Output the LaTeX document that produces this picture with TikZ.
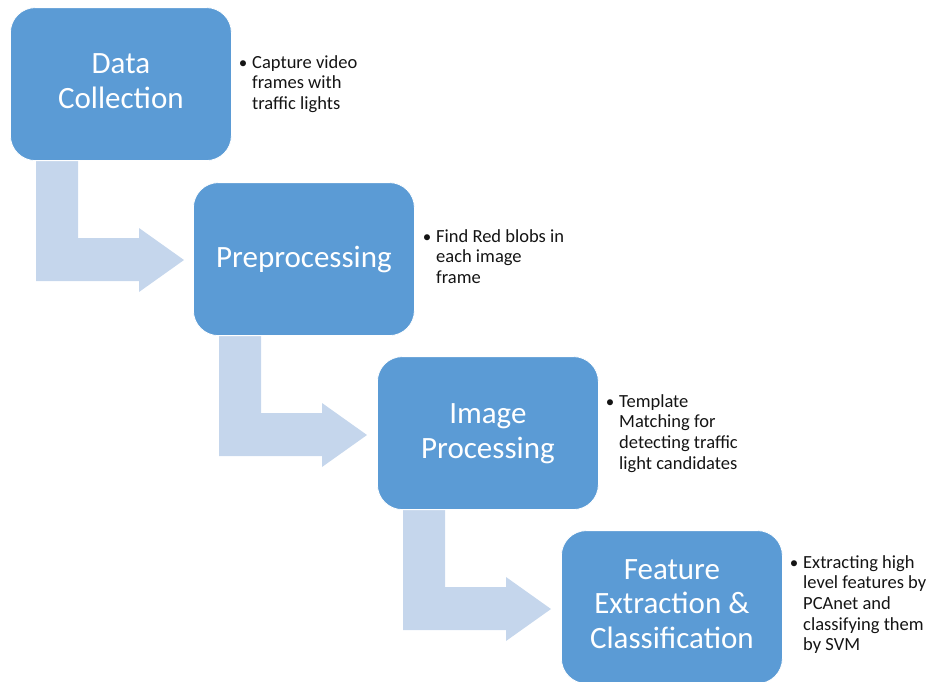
\documentclass[tikz,border=0pt]{standalone}
\usepackage{fontspec}
\setmainfont{Carlito}
\usetikzlibrary{calc}
\definecolor{boxblue}{RGB}{91,155,213}
\definecolor{arrowblue}{RGB}{197,214,236}
\definecolor{txt}{RGB}{20,20,20}
\tikzset{
  box/.style={rectangle, rounded corners=25pt, fill=boxblue, draw=white, line width=0.8pt,
    minimum width=221pt, minimum height=153pt, inner sep=0pt, anchor=south west},
  boxlabel/.style={text=white, align=center, inner sep=0pt, anchor=base, font=\fontsize{31}{34.3}\selectfont},
  note/.style={text=txt, align=left, inner sep=0pt, anchor=base west, font=\fontsize{18.5}{20.7}\selectfont},
  bul/.style={text=txt, inner sep=0pt, anchor=base, font=\fontsize{17}{20.7}\selectfont},
  bentarrow/.style={fill=arrowblue, draw=none}
}
\begin{document}
\begin{tikzpicture}[x=1pt, y=-1pt]
\useasboundingbox (0,0) rectangle (930,681);
\clip (0,0) rectangle (930,681);
% lower-left corners of the boxes
\coordinate (c1) at (10,161);
\coordinate (c2) at (193,336);
\coordinate (c3) at (377,510);
\coordinate (c4) at (561,684);
% bent arrows (behind boxes)
\foreach \c in {c1,c2,c3}{
  \path[bentarrow, shift={(\c)}]
    (26,-6) -- (68,-6) -- (68,77) -- (129,77) -- (129,67) -- (174,99)
    -- (129,131) -- (129,120) -- (26,120) -- cycle;
}
% boxes
\node[box] (b1) at (c1) {};
\node[box] (b2) at (c2) {};
\node[box] (b3) at (c3) {};
\node[box] (b4) at (c4) {};
% labels (anchored at the baseline of their last line)
\node[boxlabel] (l1) at (b1.center |- 0,108) {Data\\Collection};
\node[boxlabel] (l2) at (b2.center |- 0,267) {Preprocessing};
\node[boxlabel] (l3) at (b3.center |- 0,458) {Image\\Processing};
\node[boxlabel] (l4) at (b4.center |- 0,648) {Feature\\Extraction \&\\Classification};
% notes (anchored at the baseline of their last line)
\node[bul] (u1) at (243,68) {\textbullet};
\node[note] (n1) at (252,109.4) {Capture video\\frames with\\traffic lights};
\node[bul] (u2) at (427,242) {\textbullet};
\node[note] (n2) at (436,283.4) {Find Red blobs in\\each image\\frame};
\node[bul] (u3) at (610,407) {\textbullet};
\node[note] (n3) at (619,469.1) {Template\\Matching for\\detecting traffic\\light candidates};
\node[bul] (u4) at (794,568) {\textbullet};
\node[note] (n4) at (803,650.8) {Extracting high\\level features by\\PCAnet and\\classifying them\\by SVM};
\end{tikzpicture}
\end{document}
